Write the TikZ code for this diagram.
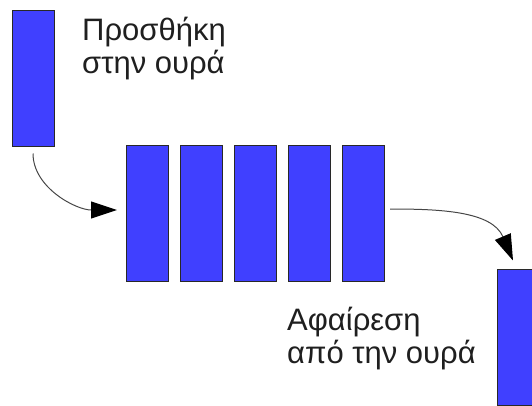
\documentclass[tikz,border=0pt]{standalone}
\usepackage{fontspec}
\setmainfont{Liberation Sans}
\usetikzlibrary{arrows.meta}
\definecolor{boxblue}{RGB}{64,64,255}
\definecolor{edgegray}{RGB}{40,40,40}
\definecolor{linegray}{RGB}{70,70,70}
\tikzset{
  cell/.style={rectangle, fill=boxblue, draw=edgegray, line width=1pt,
    minimum width=42pt, minimum height=136pt, inner sep=0pt},
  lbl/.style={inner sep=0pt, align=left, text=black!88,
    font=\fontsize{31}{33}\selectfont, anchor=base west},
  flow/.style={draw=linegray, line width=1pt,
    -{Triangle[length=26pt,width=17pt,fill=black,color=black]}}
}
\begin{document}
\begin{tikzpicture}[x=1pt,y=-1pt]
\useasboundingbox (0,0) rectangle (532,405);
\node[cell] (in) at (33,78) {};
\node[cell] (q1) at (147.5,213) {};
\node[cell] (q2) at (201.5,213) {};
\node[cell] (q3) at (255.5,213) {};
\node[cell] (q4) at (309.5,213) {};
\node[cell] (q5) at (363.5,213) {};
\node[cell] (out) at (518,337) {};
\node[lbl] (addtxt) at (82,73) {Προσθήκη\\στην ουρά};
\node[lbl] (remtxt) at (287,363) {Αφαίρεση\\από την ουρά};
\draw[flow, shorten <=7pt] (in.south) to[out=-90,in=180] ([xshift=-9pt,yshift=3pt]q1.west);
\draw[flow, shorten <=5pt] ([yshift=4pt]q5.east) to[out=0,in=113] ([xshift=-5pt,yshift=8pt]out.north);
\end{tikzpicture}
\end{document}
